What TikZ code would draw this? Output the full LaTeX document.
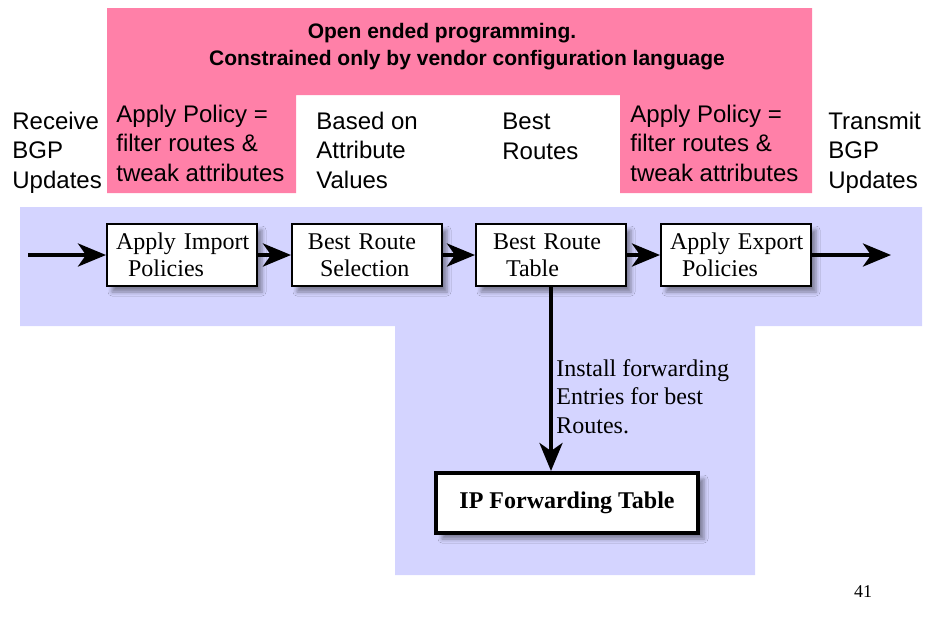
\documentclass[tikz,border=0pt]{standalone}
\usepackage{fontspec}
\setmainfont{Liberation Serif}
\setsansfont{Liberation Sans}
\usetikzlibrary{arrows.meta,shadows.blur}
\definecolor{policypink}{RGB}{255,128,168}
\definecolor{pathblue}{RGB}{212,212,255}

\begin{document}
\begin{tikzpicture}[x=0.5pt, y=-0.5pt,
  box/.style = {draw, line width=1pt, fill=white, text width=68pt, inner xsep=3.5pt, minimum height=31pt, align=left, font=\fontsize{12}{13.5}\selectfont, blur shadow={shadow xshift=2.5pt, shadow yshift=-3pt, shadow blur radius=2pt}},
  fwdbox/.style = {draw, line width=2pt, fill=white, minimum width=131pt, minimum height=30pt, font=\bfseries\fontsize{12}{14}\selectfont, blur shadow={shadow xshift=3pt, shadow yshift=-3pt, shadow blur radius=2pt}},
  side/.style = {anchor=base west, inner sep=0pt, align=left, font=\sffamily\fontsize{12}{14.75}\selectfont},
  note/.style = {anchor=base west, inner sep=0pt, align=left, font=\fontsize{12}{14.25}\selectfont},
  flow/.style = {line width=2pt, -{Stealth[length=14pt, width=11.5pt, inset=4pt]}}]

\useasboundingbox (0,0) rectangle (950,634);

% Backgrounds
\fill[policypink] (107,8) -- (812,8) -- (812,193) -- (620,193) -- (620,95) -- (296,95) -- (296,193) -- (107,193) -- cycle;
\fill[pathblue] (20,207) -- (922,207) -- (922,326) -- (755,326) -- (755,575) -- (395,575) -- (395,326) -- (20,326) -- cycle;

% Title (base = last line)
\node[anchor=base, inner sep=0pt, align=center, font=\sffamily\bfseries\fontsize{10.5}{13.5}\selectfont] (head) at (467,65)
  {Open ended programming.\hbox to 25pt{}\\Constrained only by vendor configuration language};

% Labels
\node[side] (recv) at (12,188) {Receive\\BGP\\Updates};
\node[side] (impnote) at (116,181) {Apply Policy =\\filter routes \&\\tweak attributes};
\node[side] (selnote) at (316,188) {Based on\\Attribute\\Values};
\node[side] (tabnote) at (502,159) {Best\\Routes};
\node[side] (expnote) at (630,181) {Apply Policy =\\filter routes \&\\tweak attributes};
\node[side] (xmit) at (828,188) {Transmit\\BGP\\Updates};

% Boxes
\node[box] (imp) at (182,255) {\hspace*{1pt}Apply Import\\\hspace*{7pt}Policies};
\node[box] (sel) at (367,255) {\hspace*{4.5pt}Best Route\\\hspace*{10.5pt}Selection};
\node[box] (tab) at (551,255) {\hspace*{5pt}Best Route\\\hspace*{11.5pt}Table};
\node[box] (exp) at (736,255) {\hspace*{1pt}Apply Export\\\hspace*{7pt}Policies};
\node[fwdbox] (fwd) at (567,503) {IP Forwarding Table};

% Arrows
\coordinate (in) at (28,255);
\coordinate (out) at (891,255);
\draw[flow] (in) -- (imp);
\draw[flow] (imp) -- (sel);
\draw[flow] (sel) -- (tab);
\draw[flow] (tab) -- (exp);
\draw[flow] (exp) -- (out);
\draw[flow] (tab.south) -- (tab.south |- fwd.north);

\node[note] (inst) at (556,433) {Install forwarding\\Entries for best\\Routes.};
\node[font=\fontsize{9}{11}\selectfont] (pg) at (863,592) {41};

\end{tikzpicture}
\end{document}
